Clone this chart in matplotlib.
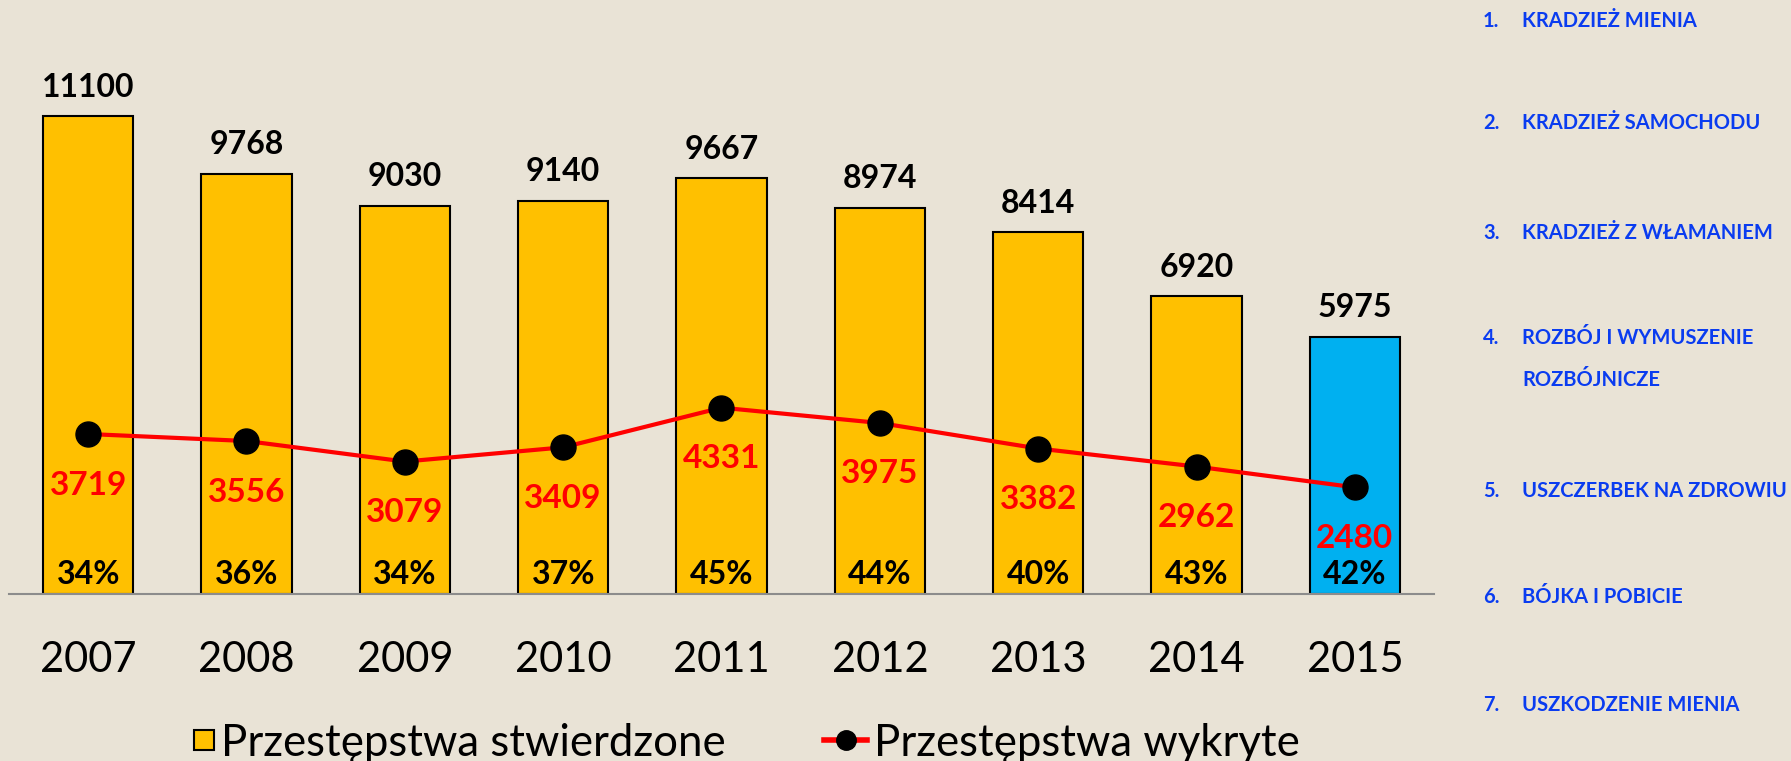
import matplotlib
matplotlib.use("Agg")
import matplotlib.pyplot as plt
from matplotlib.patches import Patch, Rectangle
from matplotlib.lines import Line2D
from matplotlib.legend_handler import HandlerPatch

years = ["2007", "2008", "2009", "2010", "2011", "2012", "2013", "2014", "2015"]
stwierdzone = [11100, 9768, 9030, 9140, 9667, 8974, 8414, 6920, 5975]
wykryte = [3719, 3556, 3079, 3409, 4331, 3975, 3382, 2962, 2480]
procent = ["34%", "36%", "34%", "37%", "45%", "44%", "40%", "43%", "42%"]
kategorie = [
    ("1.", "KRADZIEŻ MIENIA"),
    ("2.", "KRADZIEŻ SAMOCHODU"),
    ("3.", "KRADZIEŻ Z WŁAMANIEM"),
    ("4.", "ROZBÓJ I WYMUSZENIE\nROZBÓJNICZE"),
    ("5.", "USZCZERBEK NA ZDROWIU"),
    ("6.", "BÓJKA I POBICIE"),
    ("7.", "USZKODZENIE MIENIA"),
]

BG = "#E9E3D6"
YELLOW = "#FFC000"
BLUE = "#00B0F0"
RED = "#FF0000"
LISTBLUE = "#0A3CF0"
FONT = ["Lato", "DejaVu Sans"]

W, H = 1791, 761
fig = plt.figure(figsize=(W / 100, H / 100), dpi=100, facecolor=BG)
ax = fig.add_axes([9 / W, 167 / H, (1434 - 9) / W, 594 / H])
ax.set_facecolor("none")

x = list(range(len(years)))
colors = [YELLOW] * (len(years) - 1) + [BLUE]
ax.bar(x, stwierdzone, width=0.57, color=colors, edgecolor="black", linewidth=1.5, zorder=2)
ax.plot(x, wykryte, color=RED, linewidth=3, marker="o", markersize=18,
        markerfacecolor="black", markeredgecolor="black", zorder=3)

ax.set_xlim(-0.5, len(years) - 0.5)
ax.set_ylim(0, 594 / 0.04302)

for i in x:
    ax.annotate(str(stwierdzone[i]), (i, stwierdzone[i]), xytext=(0, 29), textcoords="offset pixels",
                ha="center", va="center", fontsize=23, fontweight="bold", color="black", family=FONT)
    ax.annotate(str(wykryte[i]), (i, wykryte[i]), xytext=(0, -51), textcoords="offset pixels",
                ha="center", va="center", fontsize=24, fontweight="bold", color=RED, family=FONT, zorder=4)
    ax.annotate(procent[i], (i, 0), xytext=(0, 20), textcoords="offset pixels",
                ha="center", va="center", fontsize=23, fontweight="bold", color="black", family=FONT)

ax.set_xticks(x)
ax.set_xticklabels(years, fontsize=30, family=FONT)
ax.tick_params(axis="x", length=0, pad=34)
ax.set_yticks([])
for s in ["top", "right", "left"]:
    ax.spines[s].set_visible(False)
ax.spines["bottom"].set_color("#8C8C8C")
ax.spines["bottom"].set_linewidth(1.5)


def square_patch(legend, orig_handle, xdescent, ydescent, width, height, fontsize):
    side = 20 * 72 / 100
    cx = -xdescent + width - side / 2
    cy = -ydescent + height / 2
    return Rectangle((cx - side / 2, cy - side / 2), side, side)


handles = [
    Patch(facecolor=YELLOW, edgecolor="black", linewidth=1.5, label="Przestępstwa stwierdzone"),
    Line2D([0], [0], color=RED, linewidth=4, marker="o", markersize=14,
           markerfacecolor="black", markeredgecolor="black", label="Przestępstwa wykryte"),
]
fig.legend(handles=handles, loc="center", bbox_to_anchor=(735 / W, 18 / H), ncol=2, frameon=False,
           prop={"family": FONT, "size": 31.5}, handlelength=1.0, handleheight=0.7, handletextpad=0.15,
           columnspacing=2.25, borderpad=0,
           handler_map={Patch: HandlerPatch(patch_func=square_patch)})

ys = [20.6, 123, 233, 338, 491, 597, 705]
for (num, txt), yy in zip(kategorie, ys):
    fig.text(1483 / W, 1 - yy / H, num, ha="left", va="center", fontsize=14.5, fontweight="bold",
             color=LISTBLUE, family=FONT)
    lines = txt.split("\n")
    fig.text(1522 / W, 1 - yy / H, lines[0], ha="left", va="center", fontsize=14.5, fontweight="bold",
             color=LISTBLUE, family=FONT)
    if len(lines) > 1:
        fig.text(1522 / W, 1 - 380 / H, lines[1], ha="left", va="center", fontsize=14.5, fontweight="bold",
                 color=LISTBLUE, family=FONT)

fig.savefig("out.png", dpi=100, facecolor=BG)
